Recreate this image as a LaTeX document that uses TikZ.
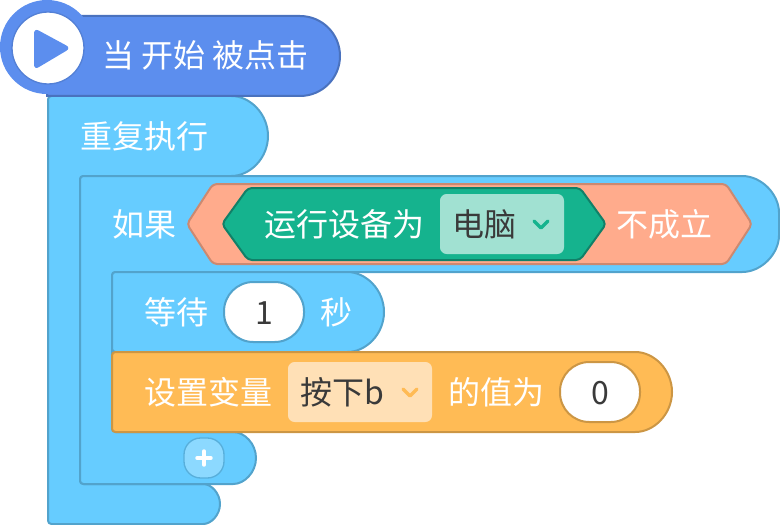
\documentclass[tikz,border=0pt]{standalone}
\usepackage{xcolor}
\usepackage{fontspec}
\usepackage{tikz}
\newfontfamily\blockfont{Noto Sans CJK SC}
\definecolor{hatBlue}{HTML}{5C8EEE}
\definecolor{hatEdge}{HTML}{4A72BE}
\definecolor{loopBlue}{HTML}{66CCFF}
\definecolor{loopEdge}{HTML}{52A3CC}
\definecolor{notPeach}{HTML}{FFAB8C}
\definecolor{notEdge}{HTML}{CC8970}
\definecolor{sensorGreen}{HTML}{15B38E}
\definecolor{sensorEdge}{HTML}{118068}
\definecolor{sensorMenu}{HTML}{A1E1D2}
\definecolor{varOrange}{HTML}{FFBB55}
\definecolor{varEdge}{HTML}{CC9644}
\definecolor{varMenu}{HTML}{FFE0B6}
\definecolor{inkGrey}{HTML}{3A3A3A}
\tikzset{
  blocktext/.style={font=\blockfont\fontsize{24}{24}\selectfont, inner sep=0pt,
        text height=21pt, text depth=3pt, anchor=center},
  whitetext/.style={blocktext, text=white},
  darktext/.style={blocktext, text=inkGrey},
  loopblock/.style={fill=loopBlue, draw=loopEdge, line width=1.5pt, line join=round, rounded corners=2.5pt},
  menubox/.style={rounded corners=5pt, minimum height=45pt, inner sep=0pt},
  inputpill/.style={darktext, fill=white, line width=1.5pt, rounded corners=22pt,
        minimum width=60pt, minimum height=45pt},
  chevron/.style={line width=2.6pt, line cap=round, line join=round},
}

\begin{document}
\begin{tikzpicture}[x=0.75pt,y=-0.75pt]
  \useasboundingbox (0,0) rectangle (780,524);

  \draw[loopblock] (48,524) -- (48,96) -- (228,96)
    arc[start angle=90, end angle=-90, radius=30pt] -- (80,176) -- (80,484) -- (200,484)
    arc[start angle=90, end angle=-90, radius=15pt] -- cycle;
  \draw[loopblock] (80,176) -- (739,176)
    arc[start angle=90, end angle=0, radius=30pt] -- (779,232)
    arc[start angle=0, end angle=-90, radius=30pt] -- (112,272) -- (112,432) -- (230,432)
    arc[start angle=90, end angle=-90, radius=19.5pt] -- (80,484) -- cycle;
  \draw[loopblock] (112,272) -- (344,272)
    arc[start angle=90, end angle=-90, radius=30pt] -- (112,352) -- cycle;
  \draw[fill=varOrange, draw=varEdge, line width=1.5pt, line join=round, rounded corners=2.5pt] (112,352) -- (632,352)
    arc[start angle=90, end angle=-90, radius=30pt] -- (112,432) -- cycle;

  \draw[fill=hatBlue, draw=hatEdge, line width=1.5pt] (47,16) -- (300,16)
    arc[start angle=90, end angle=-90, radius=30pt] -- (47,96) -- cycle;
  \fill[hatBlue] (47,47) circle[radius=35.25pt];
  \draw[fill=white, draw=hatBlue!90!black, line width=1pt] (48,48) circle[radius=27pt];
  \fill[hatBlue, rounded corners=4pt] (34,28) -- (71,48) -- (34,70) -- cycle;
  \node[whitetext] (hatlabel) at (205.5,56) {当 开始 被点击};
  \node[whitetext] (looplabel) at (144,136) {重复执行};

  \node[whitetext] (iflabel) at (144,224) {如果};
  \draw[fill=notPeach, draw=notEdge, line width=1.5pt, rounded corners=3pt]
    (187,224) -- (213,184) -- (726,184) -- (752,224) -- (726,264) -- (213,264) -- cycle;
  \draw[fill=sensorGreen, draw=sensorEdge, line width=1.5pt, rounded corners=3pt]
    (222,224) -- (248,188) -- (580,188) -- (606,224) -- (580,260) -- (248,260) -- cycle;
  \node[whitetext] (devicelabel) at (344,224) {运行设备为};
  \node[menubox, fill=sensorMenu, minimum width=93pt] (devicemenu) at (502,224) {};
  \node[darktext] (devicevalue) at (484,224) {电脑};
  \draw[chevron, draw=sensorGreen] (534,221) -- (541,228) -- (548,221);
  \node[whitetext] (notlabel) at (664,224) {不成立};

  \node[whitetext] (waitlabel) at (176,312) {等待};
  \node[inputpill, draw=loopEdge] (waitinput) at (264,312) {1};
  \node[whitetext] (secondlabel) at (336,312) {秒};

  \node[whitetext] (setlabel) at (208,392) {设置变量};
  \node[menubox, fill=varMenu, minimum width=108pt] (varmenu) at (360,392) {};
  \node[darktext] (varvalue) at (342,392) {按下b};
  \draw[chevron, draw=varOrange] (403,389) -- (410,396) -- (417,389);
  \node[whitetext] (valuelabel) at (496,392) {的值为};
  \node[inputpill, draw=varEdge] (valueinput) at (600,392) {0};

  \node[fill=loopBlue!75!white, draw=loopEdge!70!loopBlue, line width=1pt, rounded corners=12.5pt,
        minimum width=30pt, minimum height=30pt, inner sep=0pt] (addbutton) at (204,458) {};
  \draw[white, line width=2.6pt, line cap=round] (197,458) -- (211,458);
  \draw[white, line width=2.6pt, line cap=round] (204,451) -- (204,465);
\end{tikzpicture}
\end{document}
